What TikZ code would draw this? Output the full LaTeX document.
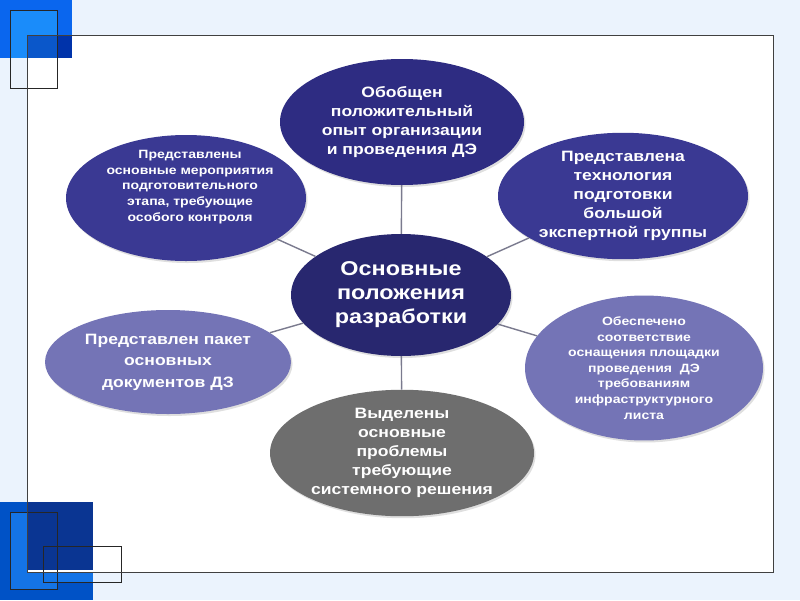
\documentclass[tikz,border=0pt]{standalone}
\usepackage{fontspec}
\setmainfont{Liberation Sans}[FakeStretch=1.17]
\usetikzlibrary{shapes.geometric,shadows}

\definecolor{bgblue}{HTML}{EBF3FD}
\definecolor{cornerblue}{HTML}{0A66EE}
\definecolor{cornerlight}{HTML}{1A8CFA}
\definecolor{cornerdark}{HTML}{0033AA}
\definecolor{lowblue}{HTML}{0052C6}
\definecolor{lowlight}{HTML}{1474E6}
\definecolor{lowdark}{HTML}{0A3592}
\definecolor{navytop}{HTML}{2E2C82}
\definecolor{navyside}{HTML}{3A3993}
\definecolor{navymid}{HTML}{28276F}
\definecolor{lavender}{HTML}{7474B6}
\definecolor{stone}{HTML}{6E6E6E}
\definecolor{linkgray}{HTML}{7A7A8E}

\begin{document}
\begin{tikzpicture}[x=1pt,y=-1pt,
    blob/.style={ellipse,inner sep=0pt,align=center,text=white,
        font=\bfseries,
        drop shadow={opacity=0.25,shadow xshift=1.5pt,shadow yshift=-2pt}},
    blobtext/.style={inner sep=0pt,align=center,text=white},
    small/.style={font=\bfseries\fontsize{12}{15.6}\selectfont},
    medium/.style={font=\bfseries\fontsize{15}{19}\selectfont},
    link/.style={draw=linkgray,line width=1.4pt}]
    \useasboundingbox (0,0) rectangle (800,600);
    \fill[bgblue] (0,0) rectangle (800,600);

    % corner squares
    \fill[cornerblue] (0,0) rectangle (72,58);
    \fill[cornerlight] (10,10) rectangle (57,58);
    \fill[lowblue] (0,502) rectangle (93,600);
    \fill[lowlight] (10,512) rectangle (57,589);
    \fill[lowlight] (43,570) rectangle (93,582);

    % frame
    \fill[white] (27,35) rectangle (773,572);
    \fill[cornerdark!60!cornerlight] (27,35) rectangle (57,58);
    \fill[cornerdark] (57,35) rectangle (72,58);
    \fill[lowdark] (27,502) rectangle (93,570);
    \draw[black!85,line width=0.8pt] (10,10) rectangle (57,88);
    \draw[black!85,line width=0.8pt] (10,512) rectangle (57,589);
    \draw[black!85,line width=0.8pt] (43,546) rectangle (121,582);
    \draw[black!75,line width=1pt] (27,35) rectangle (773,572);

    % ellipses
    \node[blob,medium,fill=navytop,minimum width=244pt,minimum height=126pt]
        (exp) at (402,122) {Обобщен\\положительный\\опыт организации\\и проведения ДЭ};
    \node[blob,fill=navyside,minimum width=240pt,minimum height=126pt]
        (prep) at (186,198) {};
    \node[blobtext,small] (prep-text) at (190,187)
        {Представлены\\основные мероприятия\\подготовительного\\этапа, требующие\\особого контроля};
    \node[blob,medium,fill=navyside,minimum width=250pt,minimum height=124pt]
        (group) at (623,196) {Представлена\\технология\\подготовки\\большой\\экспертной группы};
    \node[blob,fill=navymid,minimum width=220pt,minimum height=122pt,
        font=\bfseries\fontsize{20}{24}\selectfont]
        (core) at (401,295) {Основные\\положения\\разработки};
    \node[blob,fill=lavender,minimum width=246pt,minimum height=104pt,
        font=\bfseries\fontsize{15}{21.5}\selectfont]
        (docs) at (168,362) {Представлен пакет\\основных\\документов ДЗ};
    \node[blob,small,fill=lavender,minimum width=238pt,minimum height=126pt]
        (site) at (644,368) {Обеспечено\\соответствие\\оснащения площадки\\проведения~ ДЭ\\требованиям\\инфраструктурного\\листа};
    \node[blob,medium,fill=stone,minimum width=264pt,minimum height=126pt]
        (issues) at (402,453) {Выделены\\основные\\проблемы\\требующие\\системного решения};

    % links
    \path[link] (core) -- (exp)
                (core) -- (prep)
                (core) -- (group)
                (core) -- (docs)
                (core) -- (site)
                (core) -- (issues);
\end{tikzpicture}
\end{document}
